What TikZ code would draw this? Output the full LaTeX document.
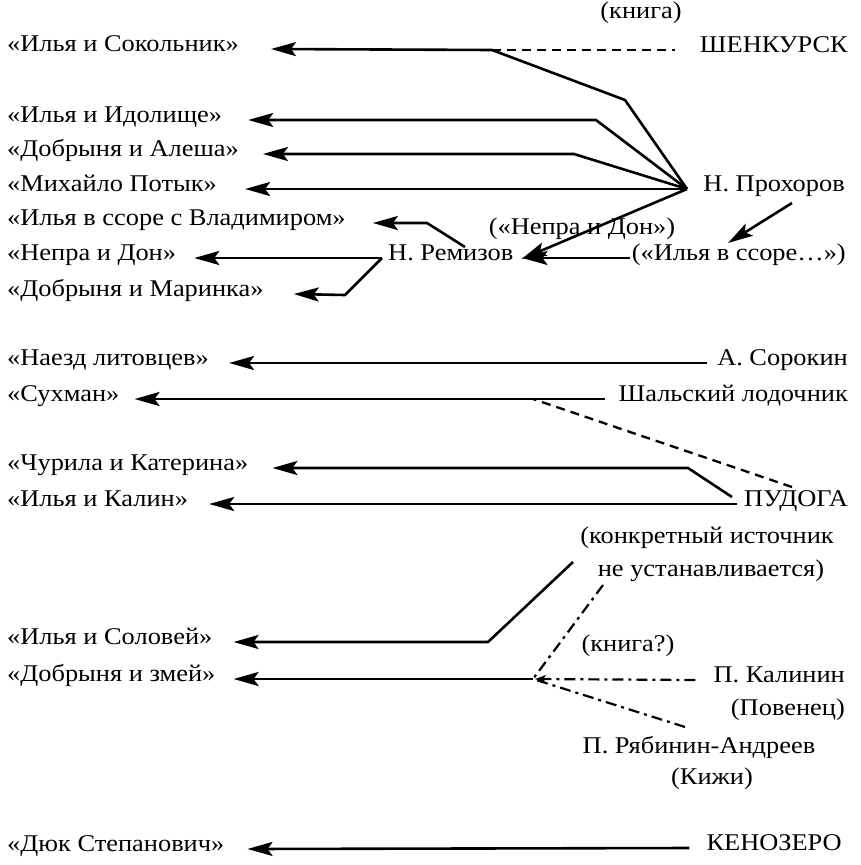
\documentclass[tikz,border=0pt]{standalone}
\usepackage{fontspec}
\setmainfont{Liberation Serif}[FakeStretch=1.1]
\usetikzlibrary{arrows.meta}
\begin{document}
\begin{tikzpicture}[x=1pt,y=-1pt,
  txt/.style={inner sep=0pt, font=\fontsize{24}{28}\selectfont},
  lt/.style={txt, anchor=mid west},
  rt/.style={txt, anchor=mid east},
  ln/.style={line width=2.6pt, line join=round},
  arr/.style={ln, -{Stealth[length=25pt,width=14pt,inset=5pt]}},
  dsh/.style={line width=2.3pt, dash pattern=on 9pt off 6pt},
  dd/.style={line width=2.2pt, dash pattern=on 11pt off 5pt on 3pt off 5pt},
  sarr/.style={dd, -{Stealth[length=11pt,width=8pt,inset=3pt]}},
]
\useasboundingbox (0,0) rectangle (861,865);
% left column
\node[lt] (sok) at (7,49) {«Илья и Сокольник»};
\node[lt] (idol) at (7,120) {«Илья и Идолище»};
\node[lt] (alesha) at (7,154) {«Добрыня и Алеша»};
\node[lt] (potyk) at (7,189) {«Михайло Потык»};
\node[lt] (vlad) at (7,223) {«Илья в ссоре с Владимиром»};
\node[lt] (nepra) at (7,258) {«Непра и Дон»};
\node[lt] (marinka) at (7,294) {«Добрыня и Маринка»};
\node[lt] (naezd) at (7,363) {«Наезд литовцев»};
\node[lt] (suhman) at (7,399) {«Сухман»};
\node[lt] (churila) at (7,468) {«Чурила и Катерина»};
\node[lt] (kalin) at (7,504) {«Илья и Калин»};
\node[lt] (solovey) at (7,642) {«Илья и Соловей»};
\node[lt] (zmey) at (7,679) {«Добрыня и змей»};
\node[lt] (dyuk) at (7,849) {«Дюк Степанович»};
% right column
\node[txt] (kniga) at (641,13) {(книга)};
\node[rt] (shenk) at (848,50) {ШЕНКУРСК};
\node[rt] (proh) at (845,189) {Н. Прохоров};
\node[txt] (nepraS) at (582,229) {(«Непра и Дон»)};
\node[rt] (ssoreS) at (846,258) {(«Илья в ссоре…»)};
\node[txt, anchor=mid west] (remiz) at (388,258) {Н. Ремизов};
\node[rt] (sorokin) at (848,363) {А. Сорокин};
\node[rt] (shal) at (848,399) {Шальский лодочник};
\node[rt] (pudoga) at (848,504) {ПУДОГА};
\node[txt] (konkr1) at (707,538) {(конкретный источник};
\node[txt] (konkr2) at (711,571) {не устанавливается)};
\node[txt] (kniga2) at (628,646) {(книга?)};
\node[rt] (kalinin) at (845,680) {П. Калинин};
\node[rt] (povenets) at (845,713) {(Повенец)};
\node[txt] (ryab) at (699,747) {П. Рябинин-Андреев};
\node[txt] (kizhi) at (712,779) {(Кижи)};
\node[rt] (kenoz) at (842,848) {КЕНОЗЕРО};
% junction points
\coordinate (pp) at (687,189);
\coordinate (s1) at (492,50);
\coordinate (s2) at (625,100);
\coordinate (i1) at (596,120);
\coordinate (a1) at (574,154);
\coordinate (r1) at (465,247);
\coordinate (r2) at (427,223);
\coordinate (r3) at (382,258);
\coordinate (r4) at (345,295);
\coordinate (ph) at (792,203);
\coordinate (ps) at (728,243);
\coordinate (sh) at (533,399);
\coordinate (pd) at (792,487);
\coordinate (c1) at (732,497);
\coordinate (c2) at (688,468);
\coordinate (k1) at (573,562);
\coordinate (k2) at (488,642);
\coordinate (z1) at (533,679);
\coordinate (u1) at (603,585);
\coordinate (ry) at (685,727);
% Prokhorov group
\draw[arr] (pp) -- (s2) -- (s1) -- ([xshift=32pt]sok.mid east);
\draw[dsh] (s1) -- ([xshift=-25pt]shenk.mid west);
\draw[arr] (pp) -- (i1) -- ([xshift=26pt]idol.mid east);
\draw[arr] (pp) -- (a1) -- ([xshift=24pt]alesha.mid east);
\draw[arr] (pp) -- ([xshift=28pt]potyk.mid east);
\draw[arr] (pp) -- ([xshift=8pt,yshift=-1pt]remiz.mid east);
\draw[arr] ([xshift=-2pt]ssoreS.mid west) -- ([xshift=9pt]remiz.mid east);
\draw[arr] (ph) -- (ps);
% Remizov group
\draw[arr] (r1) -- (r2) -- ([xshift=27pt]vlad.mid east);
\draw[arr] (r3) -- ([xshift=18pt]nepra.mid east);
\draw[arr] (r3) -- (r4) -- ([xshift=30pt]marinka.mid east);
% Sorokin, Shalsky
\draw[arr] ([xshift=-10pt]sorokin.mid west) -- ([xshift=20pt]naezd.mid east);
\draw[arr] ([xshift=-13pt]shal.mid west) -- ([xshift=15pt]suhman.mid east);
\draw[dsh] (pd) -- (sh);
% Pudoga
\draw[arr] (c1) -- (c2) -- ([xshift=24pt]churila.mid east);
\draw[arr] ([xshift=-7pt]pudoga.mid west) -- ([xshift=21pt]kalin.mid east);
% unknown source
\draw[arr] (k1) -- (k2) -- ([xshift=21pt]solovey.mid east);
\draw[arr] (z1) -- ([xshift=18pt]zmey.mid east);
\draw[dd] (u1) -- (z1);
\draw[sarr] ([xshift=-18pt]kalinin.mid west) -- ([xshift=2pt]z1);
\draw[dd] (ry) -- (z1);
% Kenozero
\draw[arr] ([xshift=-17pt]kenoz.mid west) -- ([xshift=23pt]dyuk.mid east);
\end{tikzpicture}
\end{document}
